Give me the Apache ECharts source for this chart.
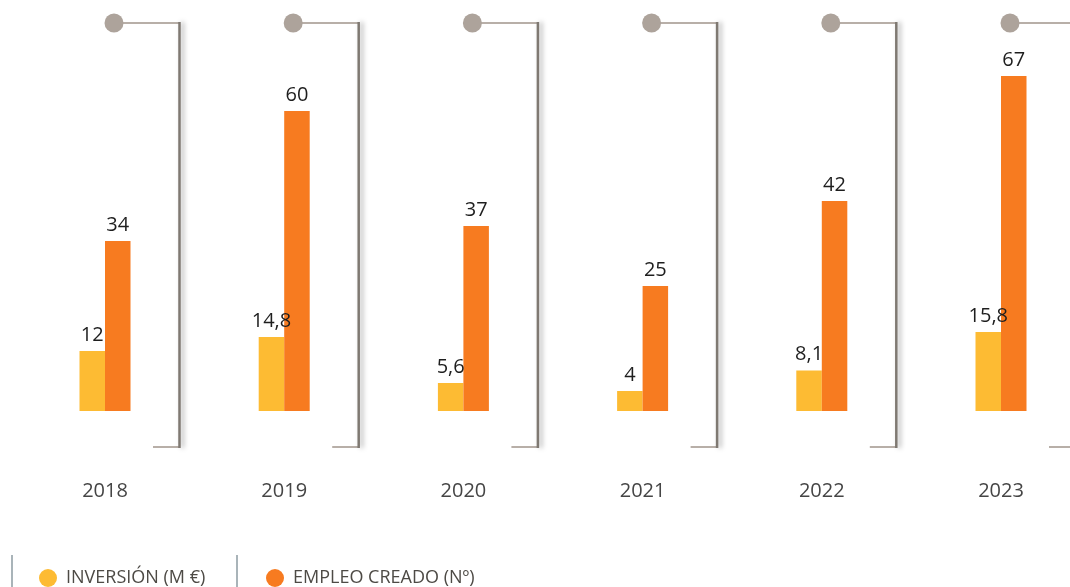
<!DOCTYPE html>
<html>
<head>
<meta charset="utf-8">
<script src="https://cdn.jsdelivr.net/npm/echarts@6/dist/echarts.min.js"></script>
<style>
  html, body { margin: 0; padding: 0; background: #ffffff; }
  #chart { width: 1070px; height: 587px; }
</style>
</head>
<body>
<div id="chart"></div>
<script>
// Años y valores de la serie
const years = ['2018', '2019', '2020', '2021', '2022', '2023'];
const inversion = [12, 14.8, 5.6, 4, 8.1, 15.8];     // M €
const empleo = [34, 60, 37, 25, 42, 67];              // Nº
const seriesNames = ['INVERSIÓN (M €)', 'EMPLEO CREADO (Nº)'];

const FONT = '"Open Sans", "Noto Sans", sans-serif';
const YELLOW = '#FDBB33';
const ORANGE = '#F77B20';

const fmt = v => String(v).replace('.', ',');

const chart = echarts.init(document.getElementById('chart'), null, { renderer: 'canvas' });

// Marco decorativo de cada año: punto, línea superior y corchete con sombra
function renderFrame(params, api) {
  const idx = api.value(0);
  const base = api.coord([idx, 0]);
  const cx = base[0];
  const topY = params.coordSys.y + 12;
  const botY = base[1] + 36;
  const vx = cx + 74.5;
  const lineColor = '#b8afa8';
  return {
    type: 'group',
    silent: true,
    children: [
      {
        type: 'line',
        shape: { x1: cx + 9, y1: topY, x2: vx, y2: topY },
        style: { stroke: lineColor, lineWidth: 2 }
      },
      {
        type: 'line',
        shape: { x1: cx + 48, y1: botY, x2: vx, y2: botY },
        style: { stroke: lineColor, lineWidth: 2 }
      },
      {
        type: 'line',
        shape: { x1: vx, y1: topY - 1, x2: vx, y2: botY + 1 },
        style: {
          stroke: '#7f7972', lineWidth: 2.5,
          shadowBlur: 5, shadowOffsetX: 3, shadowColor: 'rgba(0,0,0,0.35)'
        }
      },
      {
        type: 'circle',
        shape: { cx: cx + 9, cy: topY, r: 9.5 },
        style: { fill: '#ada39b' }
      }
    ]
  };
}

const labelStyle = {
  show: true,
  position: 'top',
  distance: 6,
  color: '#1e1e1e',
  fontFamily: FONT,
  fontSize: 20,
  formatter: p => fmt(p.value)
};

const legendText = { color: '#4d4a45', fontFamily: FONT, fontSize: 18, padding: [0, 0, 0, 4] };

chart.setOption({
  animation: false,
  backgroundColor: '#ffffff',
  grid: { left: 105, right: 69, top: 11, bottom: 176, containLabel: false },
  xAxis: {
    type: 'category',
    data: years,
    boundaryGap: false,
    axisLine: { show: false },
    axisTick: { show: false },
    axisLabel: { margin: 70, color: '#454545', fontFamily: FONT, fontSize: 20 }
  },
  yAxis: {
    type: 'value',
    min: 0,
    max: 80,
    show: false,
    splitLine: { show: false }
  },
  legend: [
    {
      data: [{ name: seriesNames[0], icon: 'circle' }],
      left: 34, top: 564,
      itemWidth: 18, itemHeight: 18,
      textStyle: legendText
    },
    {
      data: [{ name: seriesNames[1], icon: 'circle' }],
      left: 261, top: 564,
      itemWidth: 18, itemHeight: 18,
      textStyle: legendText
    }
  ],
  graphic: [
    { type: 'line', shape: { x1: 12, y1: 555, x2: 12, y2: 587 }, style: { stroke: '#8c9ba2', lineWidth: 1.5 }, silent: true },
    { type: 'line', shape: { x1: 237, y1: 555, x2: 237, y2: 587 }, style: { stroke: '#8c9ba2', lineWidth: 1.5 }, silent: true }
  ],
  series: [
    {
      type: 'custom',
      renderItem: renderFrame,
      data: years.map((y, i) => [i]),
      clip: false,
      silent: true,
      z: 1
    },
    {
      name: seriesNames[0],
      type: 'bar',
      data: inversion,
      barWidth: 25.5,
      barGap: '0%',
      clip: false,
      itemStyle: { color: YELLOW },
      label: labelStyle,
      z: 2
    },
    {
      name: seriesNames[1],
      type: 'bar',
      data: empleo,
      barWidth: 25.5,
      barGap: '0%',
      clip: false,
      itemStyle: { color: ORANGE },
      label: labelStyle,
      z: 2
    }
  ]
});
</script>
</body>
</html>
